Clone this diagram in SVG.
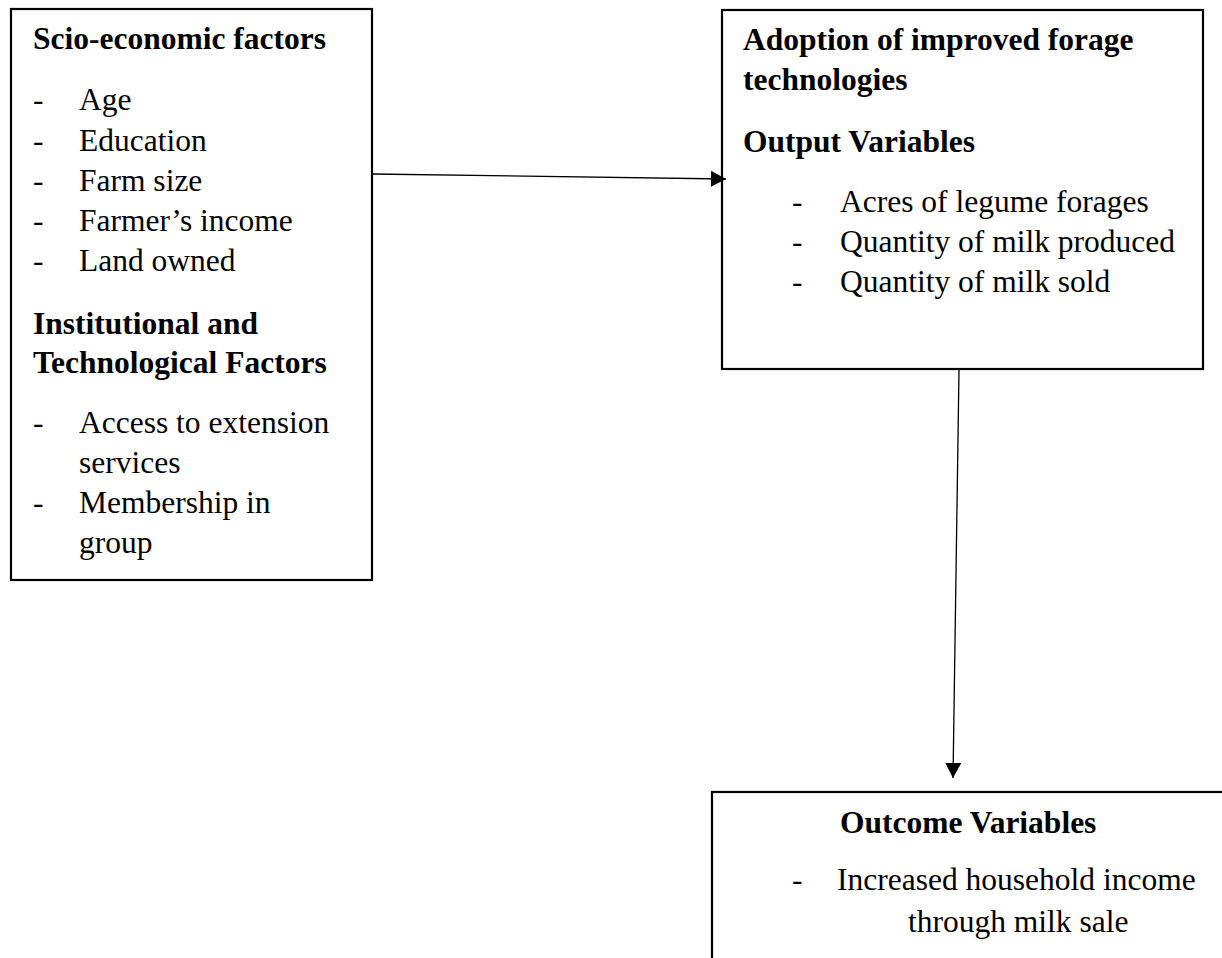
<svg xmlns="http://www.w3.org/2000/svg" width="1222" height="958" viewBox="0 0 1222 958">
<style>
.box{fill:none;stroke:#000;stroke-width:2.2}
.t{font-family:"Liberation Serif","Times New Roman",serif;font-size:31.5px;fill:#000}
.b{font-weight:bold}
.conn{stroke:#000;stroke-width:1.3;fill:none}
</style>
<defs>
<marker id="ah" markerUnits="userSpaceOnUse" markerWidth="16" markerHeight="16" refX="15" refY="8" orient="auto">
<path d="M0,0 L15,8 L0,16 z" fill="#000"/>
</marker>
</defs>
<rect width="1222" height="958" fill="#fff"/>
<g id="socio">
<rect class="box" x="11" y="9" width="361" height="571"/>
<text class="t b" x="33" y="49">Scio-economic factors</text>
<text class="t" x="33" y="110">-</text><text class="t" x="79" y="110">Age</text>
<text class="t" x="33" y="151">-</text><text class="t" x="79" y="151">Education</text>
<text class="t" x="33" y="191">-</text><text class="t" x="79" y="191">Farm size</text>
<text class="t" x="33" y="231">-</text><text class="t" x="79" y="231">Farmer’s income</text>
<text class="t" x="33" y="271">-</text><text class="t" x="79" y="271">Land owned</text>
<text class="t b" x="33" y="334">Institutional and</text>
<text class="t b" x="33" y="373">Technological Factors</text>
<text class="t" x="33" y="433">-</text><text class="t" x="79" y="433">Access to extension</text>
<text class="t" x="79" y="473">services</text>
<text class="t" x="33" y="513">-</text><text class="t" x="79" y="513">Membership in</text>
<text class="t" x="79" y="553">group</text>
</g>
<g id="adoption">
<rect class="box" x="722" y="10" width="481" height="359"/>
<text class="t b" x="743" y="50">Adoption of improved forage</text>
<text class="t b" x="743" y="90">technologies</text>
<text class="t b" x="743" y="152">Output Variables</text>
<text class="t" x="792" y="212">-</text><text class="t" x="840" y="212">Acres of legume forages</text>
<text class="t" x="792" y="252">-</text><text class="t" x="840" y="252">Quantity of milk produced</text>
<text class="t" x="792" y="292">-</text><text class="t" x="840" y="292">Quantity of milk sold</text>
</g>
<g id="outcome">
<rect class="box" x="712" y="792" width="530" height="220"/>
<text class="t b" x="840" y="833">Outcome Variables</text>
<text class="t" x="792" y="890">-</text><text class="t" x="837" y="890">Increased household income</text>
<text class="t" x="908" y="932">through milk sale</text>
</g>
<g id="connectors">
<line class="conn" x1="372" y1="174" x2="726" y2="179" marker-end="url(#ah)"/>
<line class="conn" x1="959" y1="370" x2="953" y2="778" marker-end="url(#ah)"/>
</g>
</svg>
